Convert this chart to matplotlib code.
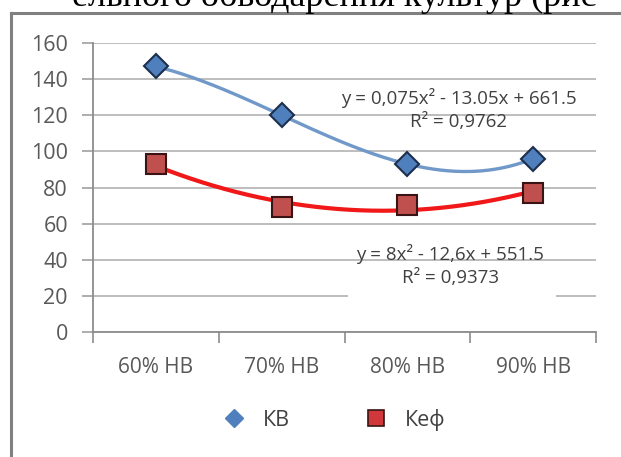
import matplotlib.pyplot as plt
import numpy as np
from matplotlib.lines import Line2D
from matplotlib.patches import Rectangle

plt.rcParams['font.family'] = ['Open Sans', 'DejaVu Sans']

# data
categories = ["60% НВ", "70% НВ", "80% НВ", "90% НВ"]
kv = [147, 120, 93, 96]
kef = [93, 69, 70.5, 77]
yticks = [0, 20, 40, 60, 80, 100, 120, 140, 160]
eq_kv = "y = 0,075x² - 13.05x + 661.5\nR² = 0,9762"
eq_kef = "y = 8x² - 12,6x + 551.5\nR² = 0,9373"
legend_names = ["КВ", "Кеф"]
caption = "ельного обводарення культур (рис"

W, H = 621, 457
fig = plt.figure(figsize=(W / 100, H / 100), dpi=100)
ax = fig.add_axes([93 / W, 1 - 332 / H, (596 - 93) / W, (332 - 43) / H])

x = np.arange(len(categories))
xs = np.linspace(0, len(categories) - 1, 200)

# blue series drawn as smooth curve through points, red as quadratic trendline
blue_fit = np.polyfit(x, kv, 3)
red_fit = np.polyfit(x, kef, 2)

ax.plot(xs, np.polyval(blue_fit, xs), color="#7098c9", lw=2.4, zorder=3)
ax.plot(xs, np.polyval(red_fit, xs), color="#f01818", lw=3.0, zorder=3)
ax.plot(x, kv, ls="none", marker="D", ms=12, mfc="#4f7fbc", mec="#1c2f4d",
        mew=1.5, zorder=4)
ax.plot(x, kef, ls="none", marker="s", ms=15, mfc="#c0504d", mec="#3a1414",
        mew=1.5, zorder=4)

ax.set_xlim(-0.5, len(categories) - 0.5)
ax.set_ylim(0, 160)
ax.set_yticks(yticks)
ax.set_xticks(x)
ax.set_xticklabels(categories)
ax.set_xticks(np.arange(-0.5, len(categories)), minor=True)
ax.tick_params(axis="x", which="major", length=0, pad=18, labelsize=15,
               labelcolor="#595959")
ax.tick_params(axis="x", which="minor", length=8, width=1.2, color="#8c8c8c")
ax.tick_params(axis="y", length=8, width=1.2, color="#a0a0a0", pad=10,
               labelsize=15.5, labelcolor="#595959")

ax.set_axisbelow(True)
ax.yaxis.grid(True, color="#bdbdbd", lw=1.4)
for s in ("top", "right"):
    ax.spines[s].set_visible(False)
for s in ("left", "bottom"):
    ax.spines[s].set_color("#8c8c8c")
    ax.spines[s].set_linewidth(1.3)

ax.text(2.41, 123, eq_kv, ha="center", va="center", fontsize=13.5,
        color="#404040", linespacing=1.35, zorder=5)
ax.add_patch(Rectangle((1.53, 12), 1.65, 25, facecolor="white",
                       edgecolor="none", zorder=1))
ax.text(2.34, 37, eq_kef, ha="center", va="center", fontsize=13.5,
        color="#404040", linespacing=1.35, zorder=5)

handles = [
    Line2D([], [], ls="none", marker="D", ms=9, mfc="#4f7fbc", mec="#4f7fbc"),
    Line2D([], [], ls="none", marker="s", ms=11, mfc="#d0383c", mec="#3a1414",
           mew=1.2),
]
fig.legend(handles, legend_names, loc="center", bbox_to_anchor=(329 / W, 1 - 420 / H),
           ncol=2, frameon=False, fontsize=15.5, handletextpad=0.35,
           columnspacing=3.0, labelcolor="#404040")

# outer chart frame and the cut caption line above it
fig.add_artist(Line2D([11 / W, 11 / W], [0, 1 - 13 / H], color="#808080", lw=2.2))
fig.add_artist(Line2D([11 / W, 1], [1 - 13 / H, 1 - 13 / H], color="#808080", lw=2.2))
fig.text(72 / W, 1 - 6 / H, caption, family="Liberation Serif", fontsize=26,
         va="baseline", ha="left", color="black")

fig.savefig("out.png", dpi=100)
